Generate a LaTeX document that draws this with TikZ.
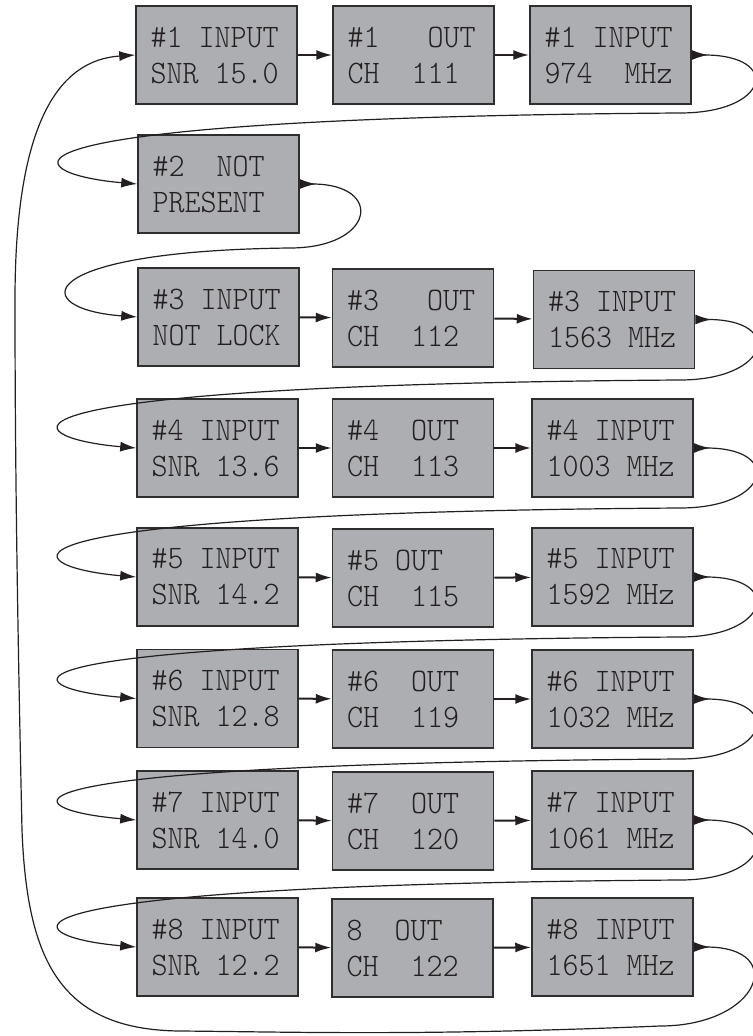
\documentclass[tikz,border=0pt]{standalone}
\usepackage{fontspec}
\usetikzlibrary{arrows.meta}
\newfontfamily\lcdfont[FakeStretch=0.93]{lmmonolt10-regular.otf}
\definecolor{panel}{HTML}{ADAEB2}
\definecolor{edge}{HTML}{2E2E2E}
\definecolor{ink}{HTML}{231F20}
% one blank character cell of the display
\newcommand\gap{\hphantom{0}}
\tikzset{
  screen/.style={draw=edge,fill=panel,line width=.75pt,text=ink,
    text width=66pt,inner xsep=7.25pt,inner ysep=0pt,minimum height=49pt,
    align=left,font=\lcdfont\fontsize{16.4pt}{18pt}\selectfont},
  nextarrow/.style={ink,line width=1pt,-{Latex[length=8pt,width=5pt]}},
  wraparrow/.style={ink,line width=.6pt,
    {Latex[reversed,length=8pt,width=5pt]}-{Latex[length=8pt,width=5pt]}}
}
\begin{document}
\begin{tikzpicture}[x=.5pt,y=-.5pt]
  \useasboundingbox (0,0) rectangle (752,1036);
  % row 1
  \node[screen] (c11) at (216.5,55) {\#1\gap INPUT\\SNR\gap 15.0};
  \node[screen] (c12) at (413.5,55) {\#1\gap\gap\gap OUT\\CH\gap\gap 111};
  \node[screen] (c13) at (610.5,55) {\#1\gap INPUT\\974\gap\gap MHz};
  % row 2
  \node[screen] (c21) at (218.5,184) {\#2\gap\gap NOT\\PRESENT};
  % row 3
  \node[screen] (c31) at (218.5,317) {\#3\gap INPUT\\NOT\gap LOCK};
  \node[screen] (c32) at (413,318) {\#3\gap\gap\gap OUT\\CH\gap\gap 112};
  \node[screen] (c33) at (614,319.5) {\#3\gap INPUT\\1563\gap MHz};
  % row 4
  \node[screen] (c41) at (217.5,448) {\#4\gap INPUT\\SNR\gap 13.6};
  \node[screen] (c42) at (413,448) {\#4\gap\gap OUT\\CH\gap\gap 113};
  \node[screen] (c43) at (612.5,448) {\#4\gap INPUT\\1003\gap MHz};
  % row 5
  \node[screen] (c51) at (217.5,577) {\#5\gap INPUT\\SNR\gap 14.2};
  \node[screen] (c52) at (413,578) {\#5\gap OUT\\CH\gap\gap 115};
  \node[screen] (c53) at (612.5,577) {\#5\gap INPUT\\1592\gap MHz};
  % row 6
  \node[screen] (c61) at (217.5,698.5) {\#6\gap INPUT\\SNR\gap 12.8};
  \node[screen] (c62) at (413,699) {\#6\gap\gap OUT\\CH\gap\gap 119};
  \node[screen] (c63) at (612.5,699) {\#6\gap INPUT\\1032\gap MHz};
  % row 7
  \node[screen] (c71) at (217.5,820) {\#7\gap INPUT\\SNR\gap 14.0};
  \node[screen] (c72) at (413,821) {\#7\gap\gap OUT\\CH\gap\gap 120};
  \node[screen] (c73) at (612.5,820) {\#7\gap INPUT\\1061\gap MHz};
  % row 8
  \node[screen] (c81) at (217.5,947) {\#8\gap INPUT\\SNR\gap 12.2};
  \node[screen] (c82) at (412.5,948) {8\gap\gap OUT\\CH\gap\gap 122};
  \node[screen] (c83) at (612.5,947) {\#8\gap INPUT\\1651\gap MHz};

  % along each row
  \draw[nextarrow] (c11) -- (c12);
  \draw[nextarrow] (c12) -- (c13);
  \draw[nextarrow] (c31) -- (c32);
  \draw[nextarrow] (c32) -- (c33);
  \draw[nextarrow] (c41) -- (c42);
  \draw[nextarrow] (c42) -- (c43);
  \draw[nextarrow] (c51) -- (c52);
  \draw[nextarrow] (c52) -- (c53);
  \draw[nextarrow] (c61) -- (c62);
  \draw[nextarrow] (c62) -- (c63);
  \draw[nextarrow] (c71) -- (c72);
  \draw[nextarrow] (c72) -- (c73);
  \draw[nextarrow] (c81) -- (c82);
  \draw[nextarrow] (c82) -- (c83);

  % back to the start of the next row
  \draw[wraparrow] (c13.east) .. controls +(90,0) and +(90,0) .. (680,113)
    .. controls +(-730,5) and +(-120,-10) .. (c21.west);
  \draw[wraparrow] (c21.east) .. controls +(85,0) and +(85,0) .. (290,248)
    .. controls +(-260,3) and +(-110,-8) .. (c31.west);
  \draw[wraparrow] (c33.east) .. controls +(90,0) and +(90,0) .. (680,380)
    .. controls +(-730,5) and +(-120,-10) .. (c41.west);
  \draw[wraparrow] (c43.east) .. controls +(90,0) and +(90,0) .. (680,508)
    .. controls +(-730,5) and +(-120,-10) .. (c51.west);
  \draw[wraparrow] (c53.east) .. controls +(90,0) and +(90,0) .. (680,637)
    .. controls +(-730,5) and +(-120,-10) .. (c61.west);
  \draw[wraparrow] (c63.east) .. controls +(90,0) and +(90,0) .. (680,759)
    .. controls +(-730,5) and +(-120,-10) .. (c71.west);
  \draw[wraparrow] (c73.east) .. controls +(90,0) and +(90,0) .. (680,880)
    .. controls +(-730,5) and +(-120,-10) .. (c81.west);
  % last one goes round to the top
  \draw[wraparrow] (c83.east) .. controls +(95,0) and +(100,0) .. (660,1026)
    .. controls (420,1036) and (300,1032) .. (180,1031)
    .. controls (60,1030) and (27,960) .. (22,830)
    .. controls (17,600) and (15,450) .. (15,300)
    .. controls (15,120) and (60,60) .. (c11.west);
\end{tikzpicture}
\end{document}
